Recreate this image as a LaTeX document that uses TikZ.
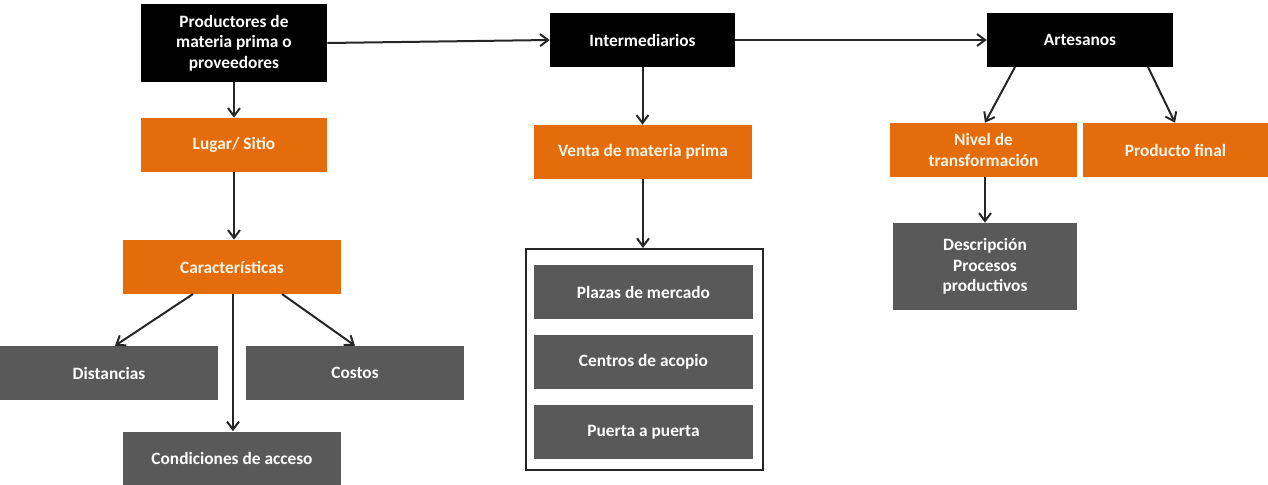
\documentclass[tikz,border=0pt]{standalone}
\usepackage{fontspec}
\setmainfont{Carlito}
\usetikzlibrary{arrows.meta}
\definecolor{orng}{HTML}{E46C0A}
\definecolor{gry}{HTML}{595959}
\definecolor{ltxt}{HTML}{FFF4E6}
\tikzset{
  base/.style={rectangle, inner sep=1pt, align=center, font=\bfseries\fontsize{13}{15.4}\selectfont},
  blk/.style={base, fill=black, text=white},
  org/.style={base, fill=orng, text=ltxt},
  gbox/.style={base, fill=gry, text=white},
  conn/.style={draw=black!85, line width=1.5pt, -{Straight Barb[length=6pt,width=9pt]}},
}
\begin{document}
\begin{tikzpicture}[x=0.75pt,y=-0.75pt]
\useasboundingbox (0,0) rectangle (1268,485);
% top row
\node[blk, minimum width=139.5pt, minimum height=58.5pt] (prod) at (234,43) {Productores de\\materia prima o\\proveedores};
\node[blk, minimum width=138.75pt, minimum height=40.5pt] (inter) at (642.5,40) {Intermediarios};
\node[blk, minimum width=139.5pt, minimum height=40.5pt] (art) at (1080,40) {Artesanos};
% second row
\node[org, minimum width=139.5pt, minimum height=40.5pt] (lugar) at (234,145) {Lugar/ Sitio};
\node[org, minimum width=163.5pt, minimum height=40.5pt] (venta) at (643,152) {Venta de materia prima};
\node[org, minimum width=140.25pt, minimum height=40.5pt] (nivel) at (983.5,150) {Nivel de\\transformación};
\node[org, minimum width=138.75pt, minimum height=40.5pt] (final) at (1175.5,150) {Producto final};
% left column
\node[org, minimum width=163.5pt, minimum height=40.5pt] (carac) at (232,267) {Características};
\node[gbox, minimum width=163.5pt, minimum height=40.5pt] (dist) at (109,373) {Distancias};
\node[gbox, minimum width=163.5pt, minimum height=40.5pt] (cost) at (355,373) {Costos};
\node[gbox, minimum width=163.5pt, minimum height=40.5pt] (cond) at (232,458.5) {Condiciones de acceso};
% middle container
\node[draw=black!85, line width=1.5pt, minimum width=177.75pt, minimum height=165.75pt, inner sep=0pt] (cont) at (644.5,359.5) {};
\node[gbox, minimum width=164.25pt, minimum height=40.5pt] (plaza) at (643.5,292) {Plazas de mercado};
\node[gbox, minimum width=164.25pt, minimum height=40.5pt] (centro) at (643.5,362) {Centros de acopio};
\node[gbox, minimum width=164.25pt, minimum height=40.5pt] (puerta) at (643.5,432) {Puerta a puerta};
% right
\node[gbox, minimum width=138pt, minimum height=65.25pt] (desc) at (985,266.5) {Descripción\\Procesos\\productivos};
% connectors
\draw[conn] (prod.east) -- (inter.west);
\draw[conn] (inter.east) -- (art.west);
\draw[conn] (prod.south) -- (lugar.north);
\draw[conn] (lugar.south) -- (carac.north -| lugar.south);
\draw[conn] (inter.south) -- (venta.north -| inter.south);
\draw[conn] (venta.south) -- (cont.north -| venta.south);
\coordinate (a1) at (1015,67);
\coordinate (a2) at (1148,67);
\draw[conn] (a1) -- (nivel.north -| 985,0);
\draw[conn] (a2) -- (final.north -| 1175,0);
\draw[conn] (nivel.south -| 985,0) -- (desc.north -| 985,0);
\coordinate (c1) at (193,294);
\coordinate (c2) at (282,294);
\draw[conn] (c1) -- (dist.north -| 115,0);
\draw[conn] (c2) -- (cost.north -| 355,0);
\draw[conn] (carac.south -| 233,0) -- (cond.north -| 233,0);
\end{tikzpicture}
\end{document}
